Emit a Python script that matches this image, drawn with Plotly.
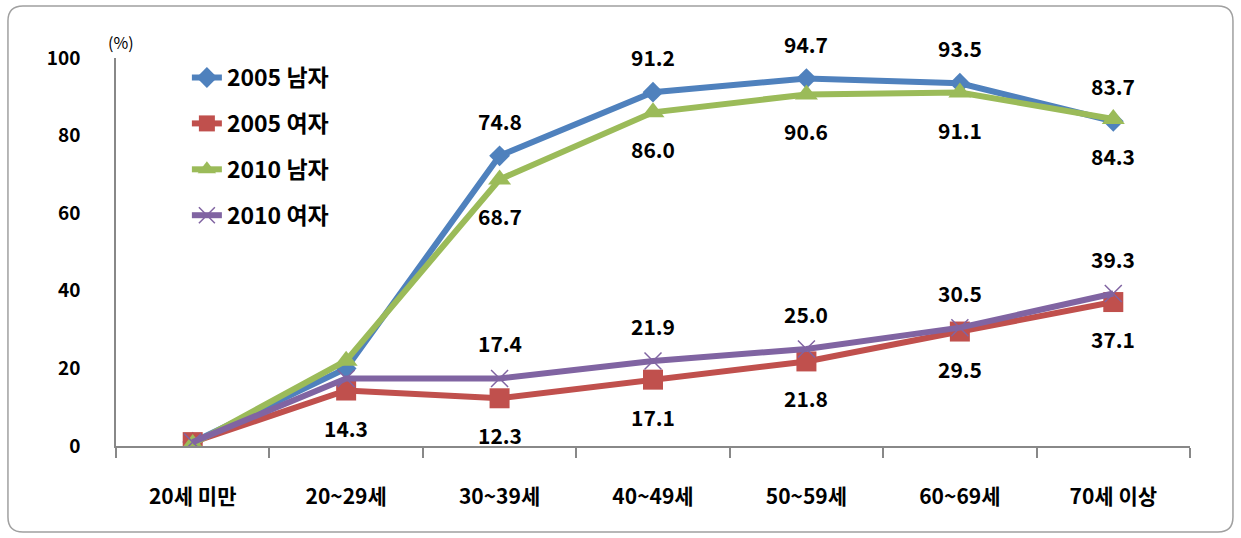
import plotly.graph_objects as go

categories = ["20세 미만", "20~29세", "30~39세", "40~49세", "50~59세", "60~69세", "70세 이상"]
series_names = ["2005 남자", "2005 여자", "2010 남자", "2010 여자"]
m2005 = [1.0, 20.0, 74.8, 91.2, 94.7, 93.5, 83.7]
f2005 = [1.0, 14.3, 12.3, 17.1, 21.8, 29.5, 37.1]
m2010 = [0.5, 22.0, 68.7, 86.0, 90.6, 91.1, 84.3]
f2010 = [1.0, 17.4, 17.4, 21.9, 25.0, 30.5, 39.3]
# which points carry a printed label (index list)
labelled_m2005 = [2, 3, 4, 5, 6]
labelled_f2005 = [1, 2, 3, 4, 5, 6]
labelled_m2010 = [2, 3, 4, 5, 6]
labelled_f2010 = [2, 3, 4, 5, 6]

FONT = "Noto Sans CJK KR"
colors = ["#4F81BD", "#C0504D", "#9BBB59", "#8064A2"]
symbols = ["diamond", "square", "triangle-up", "x-thin-open"]
sizes = [16, 20, 20, 17]
data = [m2005, f2005, m2010, f2010]

fig = go.Figure()
for i, (name, vals) in enumerate(zip(series_names, data)):
    marker = dict(symbol=symbols[i], size=sizes[i], color=colors[i])
    if symbols[i] == "x-thin-open":
        marker["line"] = dict(width=1.5, color=colors[i])
    fig.add_trace(go.Scatter(
        x=categories, y=vals, name=name, mode="lines+markers",
        line=dict(color=colors[i], width=6), marker=marker,
        legendgroup=name,
    ))

def add_labels(vals, idxs, shift):
    for j in idxs:
        fig.add_annotation(x=categories[j], y=vals[j], text=f"{vals[j]:.1f}",
                           showarrow=False, yshift=shift,
                           font=dict(family=FONT, size=21, color="black", weight="bold"))

add_labels(m2005, labelled_m2005, 35)
add_labels(f2005, labelled_f2005, -37)
add_labels(m2010, labelled_m2010, -37)
add_labels(f2010, labelled_f2010, 35)

fig.add_annotation(x=0.005, y=1.005, xref="paper", yref="paper", text="(%)",
                   showarrow=False, xanchor="center", yanchor="bottom",
                   font=dict(family=FONT, size=16, color="black"))

# rounded border (paper coords; plot area 1074 x 388 px)
x0, x1, y0, y1 = -0.1006, 1.0400, -0.2216, 1.134
rx, ry = 15 / 1074, 15 / 388
path = (f"M {x0+rx},{y1} L {x1-rx},{y1} Q {x1},{y1} {x1},{y1-ry} "
        f"L {x1},{y0+ry} Q {x1},{y0} {x1-rx},{y0} "
        f"L {x0+rx},{y0} Q {x0},{y0} {x0},{y0+ry} "
        f"L {x0},{y1-ry} Q {x0},{y1} {x0+rx},{y1} Z")
fig.add_shape(type="path", xref="paper", yref="paper", path=path,
              line=dict(color="#A0A0A0", width=1.5))

fig.update_layout(
    width=1241, height=538,
    margin=dict(l=116, r=51, t=58, b=92),
    paper_bgcolor="white", plot_bgcolor="white",
    font=dict(family=FONT, color="black"),
    showlegend=True,
    legend=dict(x=0.066, y=1.005, xanchor="left", yanchor="top",
                font=dict(family=FONT, size=23, color="black", weight="bold"),
                tracegroupgap=13, bgcolor="rgba(0,0,0,0)"),
    xaxis=dict(type="category", range=[-0.5, 6.5], showline=True, linecolor="#888888", linewidth=1.5,
               ticks="outside", tickson="boundaries", ticklen=10, tickcolor="#888888",
               tickwidth=1.5, showgrid=False, ticklabelstandoff=31,
               tickfont=dict(family=FONT, size=21, color="black", weight="bold")),
    yaxis=dict(range=[0, 100], dtick=20, showline=True, linecolor="#888888", linewidth=1.5,
               showgrid=False, zeroline=False, ticks="", ticklabelstandoff=30,
               tickfont=dict(family=FONT, size=19, color="black", weight="bold")),
)

fig.write_html("out.html")
